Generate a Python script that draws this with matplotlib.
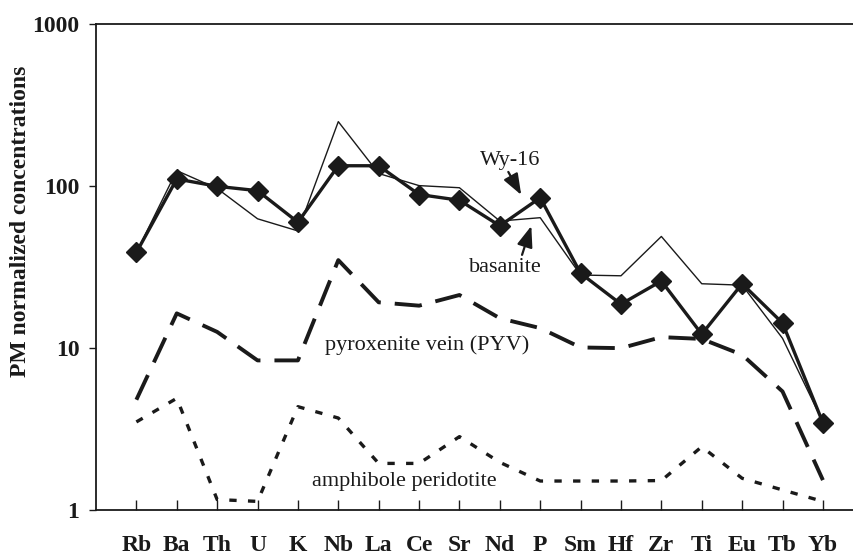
import matplotlib
matplotlib.use("Agg")
import matplotlib.pyplot as plt
from matplotlib.ticker import FixedLocator, NullLocator

elements = ["Rb", "Ba", "Th", "U", "K", "Nb", "La", "Ce", "Sr", "Nd",
            "P", "Sm", "Hf", "Zr", "Ti", "Eu", "Tb", "Yb"]

wy16 = [39, 111, 100, 94, 60, 134, 134, 89, 82, 57,
        85, 29, 18.7, 26, 12.2, 25, 14.3, 3.46]
basanite = [39, 125, 97, 63, 53, 251, 120, 101, 98, 61,
            64, 28.3, 28, 49, 25, 24.5, 11.5, 3.5]
pyv = [4.8, 16.4, 12.6, 8.4, 8.4, 35, 19.2, 18.3, 21.3, 15.3,
       13.3, 10.1, 10, 11.7, 11.4, 9.1, 5.4, 1.53]
amph_perid = [3.5, 4.9, 1.16, 1.13, 4.35, 3.7, 1.94, 1.94, 2.84, 1.97,
              1.51, 1.51, 1.51, 1.52, 2.46, 1.57, 1.33, 1.13]

plt.rcParams["font.family"] = ["Liberation Serif", "DejaVu Serif"]

fig = plt.figure(figsize=(8.54, 5.55), dpi=100)
ax = fig.add_axes([0.1124, 0.0811, 0.8876, 0.8748])

x = list(range(len(elements)))
ink = "#1a1a1a"

ax.plot(x, basanite, color=ink, lw=1.0)
ax.plot(x, wy16, color=ink, lw=2.4, marker="D", markersize=10.5, zorder=3)
ax.plot(x, pyv, color=ink, lw=2.8, linestyle=(0, (7, 3.6)))
ax.plot(x, amph_perid, color=ink, lw=2.4, linestyle=(0, (2.2, 3.4)))

ax.set_yscale("log")
ax.set_ylim(1, 1000)
ax.set_xlim(-1, 17.77)
ax.yaxis.set_major_locator(FixedLocator([1, 10, 100, 1000]))
ax.yaxis.set_minor_locator(NullLocator())
ax.set_yticklabels(["1", "10", "100", "1000"], fontweight="bold", fontsize=17)
ax.tick_params(axis="y", direction="out", length=5, width=1, pad=7, colors=ink)

ax.set_xticks(x)
ax.set_xticklabels(elements, fontweight="bold", fontsize=17)
ax.tick_params(axis="x", direction="in", length=7, width=1, pad=18, colors=ink)

ax.set_ylabel("PM normalized concentrations", fontweight="bold", fontsize=17,
              color=ink)
ax.yaxis.set_label_coords(-0.086, 0.595)

ax.spines["right"].set_visible(False)
for side in ("left", "top", "bottom"):
    ax.spines[side].set_linewidth(1.3)
    ax.spines[side].set_color(ink)

# series labels and pointer arrows
arrow = dict(arrowstyle="-|>,head_length=0.8,head_width=0.3", color=ink,
             lw=1.6, shrinkA=0, shrinkB=0, mutation_scale=16)
ax.text(9.26, 145, "Wy-16", fontsize=16, ha="center", va="center", color=ink)
ax.annotate("", xy=(9.53, 88.5), xytext=(9.21, 122.7), arrowprops=arrow)
ax.text(9.13, 31.3, "basanite", fontsize=16, ha="center", va="center", color=ink)
ax.annotate("", xy=(9.78, 56.9), xytext=(9.55, 37.7), arrowprops=arrow)
ax.text(4.68, 10.48, "pyroxenite vein (PYV)", fontsize=16, ha="left",
        va="center", color=ink)
ax.text(4.36, 1.49, "amphibole peridotite", fontsize=16, ha="left",
        va="center", color=ink)

fig.savefig("out.png", dpi=100)
